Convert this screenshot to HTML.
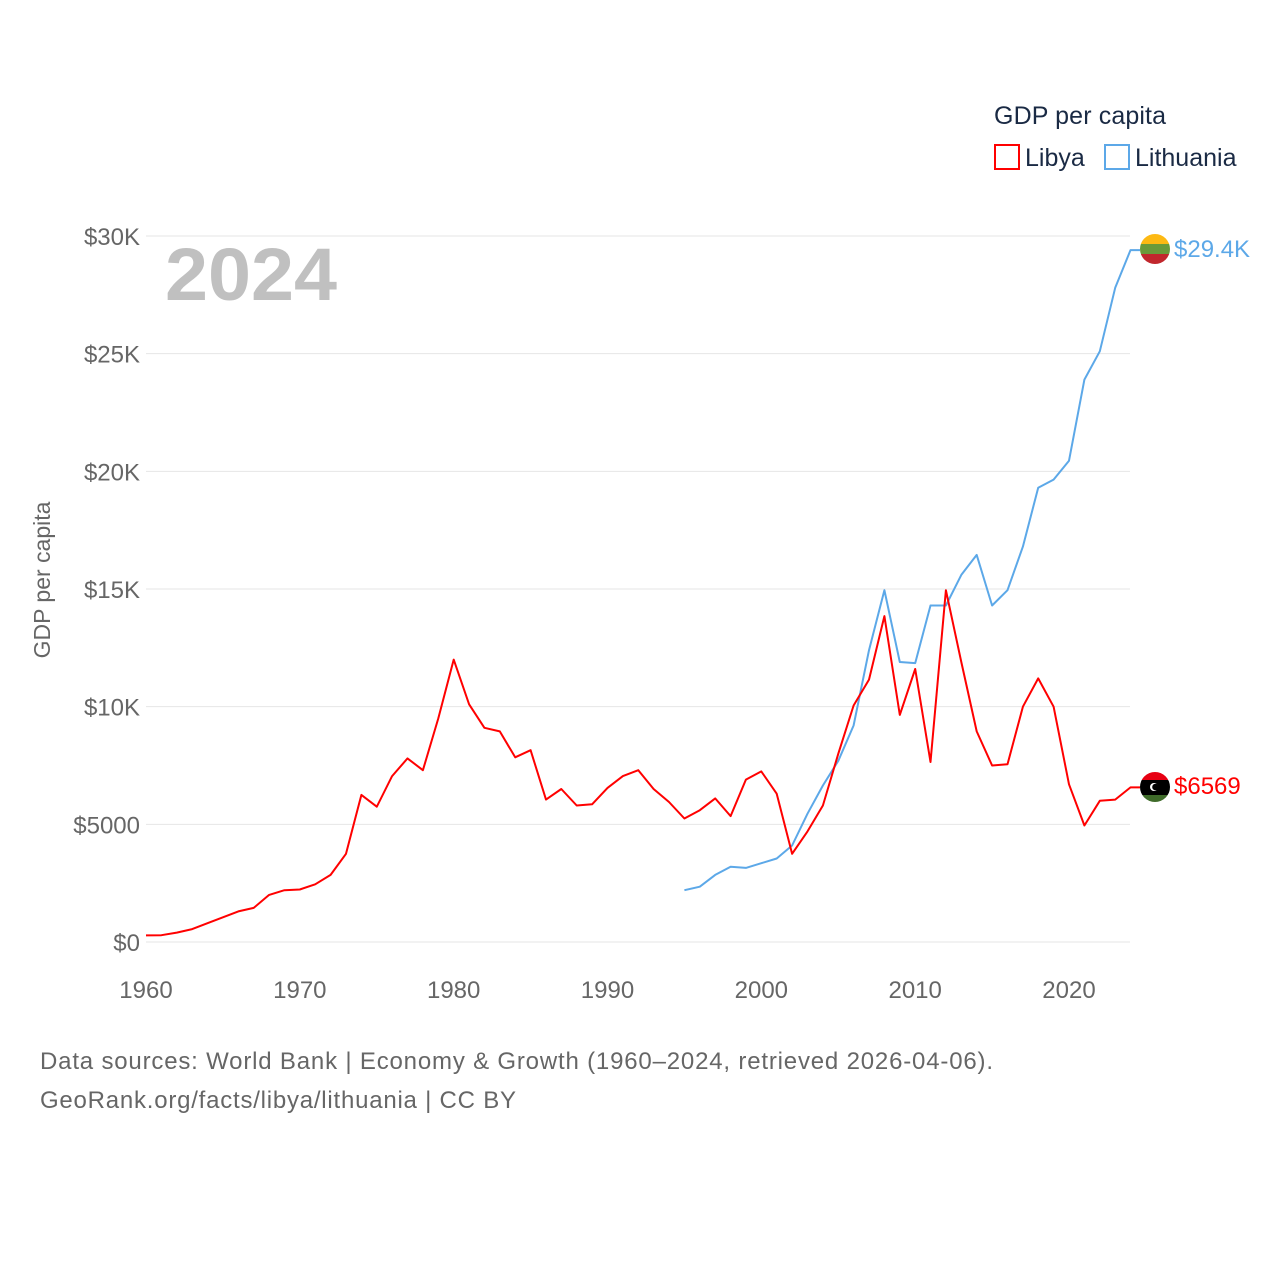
<!DOCTYPE html>
<html><head><meta charset="utf-8">
<style>
body{margin:0;background:#fff;font-family:"Liberation Sans",sans-serif;}
svg text{font-family:"Liberation Sans",sans-serif;}
</style></head>
<body>
<svg id="chart" width="1280" height="1280" xmlns="http://www.w3.org/2000/svg">
<g id="grid"></g>
<g id="yticks"></g>
<g id="xticks"></g>
<text x="165" y="300" font-size="74" font-weight="bold" fill="#c0c0c0" textLength="172" lengthAdjust="spacingAndGlyphs">2024</text>
<text transform="translate(50,580) rotate(-90)" text-anchor="middle" font-size="23" fill="#666">GDP per capita</text>
<g id="lines"></g>
<g>
<text x="994" y="124" font-size="25" fill="#1a2a44" textLength="172">GDP per capita</text>
<rect x="995" y="145" width="24" height="24" fill="none" stroke="#ff0000" stroke-width="2"/>
<text x="1025" y="166" font-size="25" fill="#1a2a44">Libya</text>
<rect x="1105" y="145" width="24" height="24" fill="none" stroke="#5ca8e8" stroke-width="2"/>
<text x="1135" y="166" font-size="25" fill="#1a2a44">Lithuania</text>
</g>
<defs>
<clipPath id="c1"><circle cx="1155" cy="249" r="15"/></clipPath>
<clipPath id="c2"><circle cx="1155" cy="787" r="15"/></clipPath>
</defs>
<g clip-path="url(#c1)">
<rect x="1140" y="234" width="30" height="10" fill="#fdb913"/>
<rect x="1140" y="244" width="30" height="10" fill="#6a9a3a"/>
<rect x="1140" y="254" width="30" height="10" fill="#c1272d"/>
</g>
<text x="1174" y="257" font-size="24" fill="#5ca8e8">$29.4K</text>
<g clip-path="url(#c2)">
<rect x="1140" y="772" width="30" height="8" fill="#e70013"/>
<rect x="1140" y="780" width="30" height="15" fill="#000"/>
<rect x="1140" y="795" width="30" height="8" fill="#3f6b2a"/>
<circle cx="1154" cy="787" r="4" fill="#fff"/><circle cx="1155.5" cy="787" r="3.3" fill="#000"/>
</g>
<text x="1174" y="794" font-size="24" fill="#ff0000">$6569</text>
<text x="40" y="1069" font-size="24" fill="#666" textLength="953">Data sources: World Bank | Economy &amp; Growth (1960–2024, retrieved 2026-04-06).</text>
<text x="40" y="1108" font-size="24" fill="#666" textLength="476">GeoRank.org/facts/libya/lithuania | CC BY</text>
</svg>
<script>
const yTickValues=[0,5000,10000,15000,20000,25000,30000];
const yTickLabels=["$0","$5000","$10K","$15K","$20K","$25K","$30K"];
const xTickValues=[1960,1970,1980,1990,2000,2010,2020];
const libyaStart=1960;
const libyaValues=[280,290,400,550,800,1050,1300,1450,2000,2200,2230,2450,2850,3750,6250,5750,7050,7800,7300,9500,12000,10100,9100,8950,7850,8150,6050,6500,5800,5850,6550,7050,7300,6500,5950,5250,5600,6100,5350,6900,7250,6300,3750,4700,5800,8000,10050,11150,13850,9650,11600,7650,14950,11900,8950,7500,7550,10000,11200,10000,6700,4950,6000,6050,6569];
const lithuaniaStart=1995;
const lithuaniaValues=[2200,2350,2850,3200,3150,3350,3550,4100,5450,6650,7700,9200,12400,14950,11900,11850,14300,14300,15600,16450,14300,14950,16800,19300,19650,20450,23900,25100,27800,29400];
const NS="http://www.w3.org/2000/svg";
const x=yr=>146+(yr-1960)*(923/60);
const y=v=>942-v*(706/30000);
function mk(tag,attrs,parent){const e=document.createElementNS(NS,tag);for(const k in attrs)e.setAttribute(k,attrs[k]);parent.appendChild(e);return e;}
const grid=document.getElementById('grid'),yt=document.getElementById('yticks'),xt=document.getElementById('xticks'),lines=document.getElementById('lines');
yTickValues.forEach((v,i)=>{
 const l=mk('line',{x1:146,x2:1130,y1:y(v),y2:y(v),stroke:'#e6e6e6','stroke-width':1},grid);
 
 
 const t=mk('text',{x:140,y:y(v)+9,'text-anchor':'end','font-size':24,fill:'#666'},yt);
 t.textContent=yTickLabels[i];
 
 
});
xTickValues.forEach(v=>{
 const t=mk('text',{x:x(v),y:998,'text-anchor':'middle','font-size':24,fill:'#666'},xt);
 t.textContent=v;
 
 
});
function series(vals,start,color,name){
 let d=vals.map((v,i)=>(i?'L':'M')+x(start+i).toFixed(1)+','+y(v).toFixed(1)).join(' ');
 d+=' L1140,'+y(vals[vals.length-1]).toFixed(1);
 const p=mk('path',{d:d,fill:'none',stroke:color,'stroke-width':2,'stroke-linejoin':'round'},lines);
 
 
}
series(lithuaniaValues,lithuaniaStart,'#5ca8e8','lithuania-line');
series(libyaValues,libyaStart,'#ff0000','libya-line');
</script>
</body></html>
